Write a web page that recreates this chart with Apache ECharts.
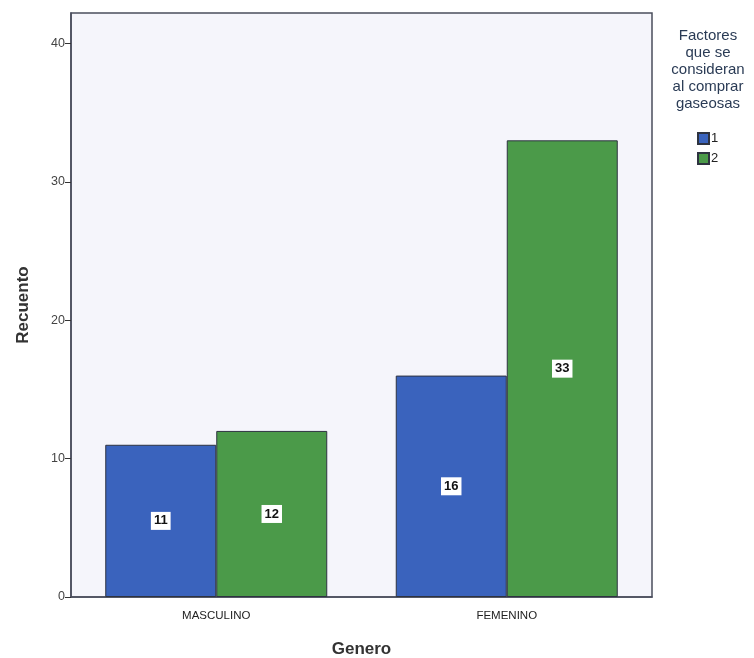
<!DOCTYPE html>
<html>
<head>
<meta charset="utf-8">
<script src="https://cdn.jsdelivr.net/npm/echarts@6/dist/echarts.min.js"></script>
<style>html,body{margin:0;padding:0;background:#fff;}#c{width:754px;height:658px;}</style>
</head>
<body>
<div id="c"></div>
<script>
const categories = ['MASCULINO', 'FEMENINO'];
const seriesNames = ['1', '2'];
const values1 = [11, 16];
const values2 = [12, 33];
const yTicks = [0, 10, 20, 30, 40];
const yMax = 42.2;
const legendTitle = 'Factores\nque se\nconsideran\nal comprar\ngaseosas';
const colors = ['#3a63bd', '#4b9a49'];

const chart = echarts.init(document.getElementById('c'), null, {renderer: 'canvas'});
const labelCfg = {
  show: true, position: 'inside', color: '#111', backgroundColor: '#fff',
  padding: [3, 3, 2, 3], fontFamily: 'Liberation Sans', fontSize: 13, fontWeight: 'bold'
};
chart.setOption({
  animation: false,
  backgroundColor: '#fff',
  title: {
    text: legendTitle, left: 703, top: 22, textAlign: 'center',
    textStyle: {fontFamily: 'Liberation Sans', fontSize: 15, fontWeight: 'normal', color: '#2a3b55', lineHeight: 17}
  },
  legend: {
    orient: 'vertical', left: 692, top: 127, itemWidth: 11, itemHeight: 11, itemGap: 7,
    icon: 'rect',
    textStyle: {fontFamily: 'Liberation Sans', fontSize: 13, color: '#222', padding: [0, 0, 0, -3]},
    data: seriesNames
  },
  grid: {
    left: 71, top: 13, width: 581, height: 584, show: true,
    outerBoundsMode: 'none', containLabel: false,
    backgroundColor: '#f5f5fb', borderColor: '#4a4d5c', borderWidth: 1.5
  },
  xAxis: {
    type: 'category', data: categories,
    name: 'Genero', nameLocation: 'middle', nameGap: 44,
    nameTextStyle: {fontFamily: 'Liberation Sans', fontSize: 17, fontWeight: 'bold', color: '#333'},
    axisLine: {lineStyle: {color: '#4a4d5c', width: 1.5}},
    axisTick: {alignWithLabel: true, length: 6, lineStyle: {color: '#333'}},
    axisLabel: {fontFamily: 'Liberation Sans', fontSize: 11.5, color: '#222', margin: 13}
  },
  yAxis: {
    type: 'value', min: 0, max: yMax,
    name: 'Recuento', nameLocation: 'middle', nameGap: 39,
    nameTextStyle: {fontFamily: 'Liberation Sans', fontSize: 17, fontWeight: 'bold', color: '#333'},
    axisLine: {show: true, lineStyle: {color: '#4a4d5c', width: 1.5}},
    axisTick: {show: true, length: 6, customValues: yTicks, lineStyle: {color: '#333'}},
    axisLabel: {fontFamily: 'Liberation Sans', fontSize: 12.5, color: '#444', margin: 6, customValues: yTicks},
    splitLine: {show: false}
  },
  series: [
    {name: seriesNames[0], type: 'bar', data: values1, barWidth: 111, barGap: '0%',
     itemStyle: {color: colors[0], borderColor: '#2e3340', borderWidth: 1}, label: labelCfg},
    {name: seriesNames[1], type: 'bar', data: values2, barWidth: 111, barGap: '0%',
     itemStyle: {color: colors[1], borderColor: '#2e3340', borderWidth: 1}, label: labelCfg}
  ]
});
</script>
</body>
</html>
